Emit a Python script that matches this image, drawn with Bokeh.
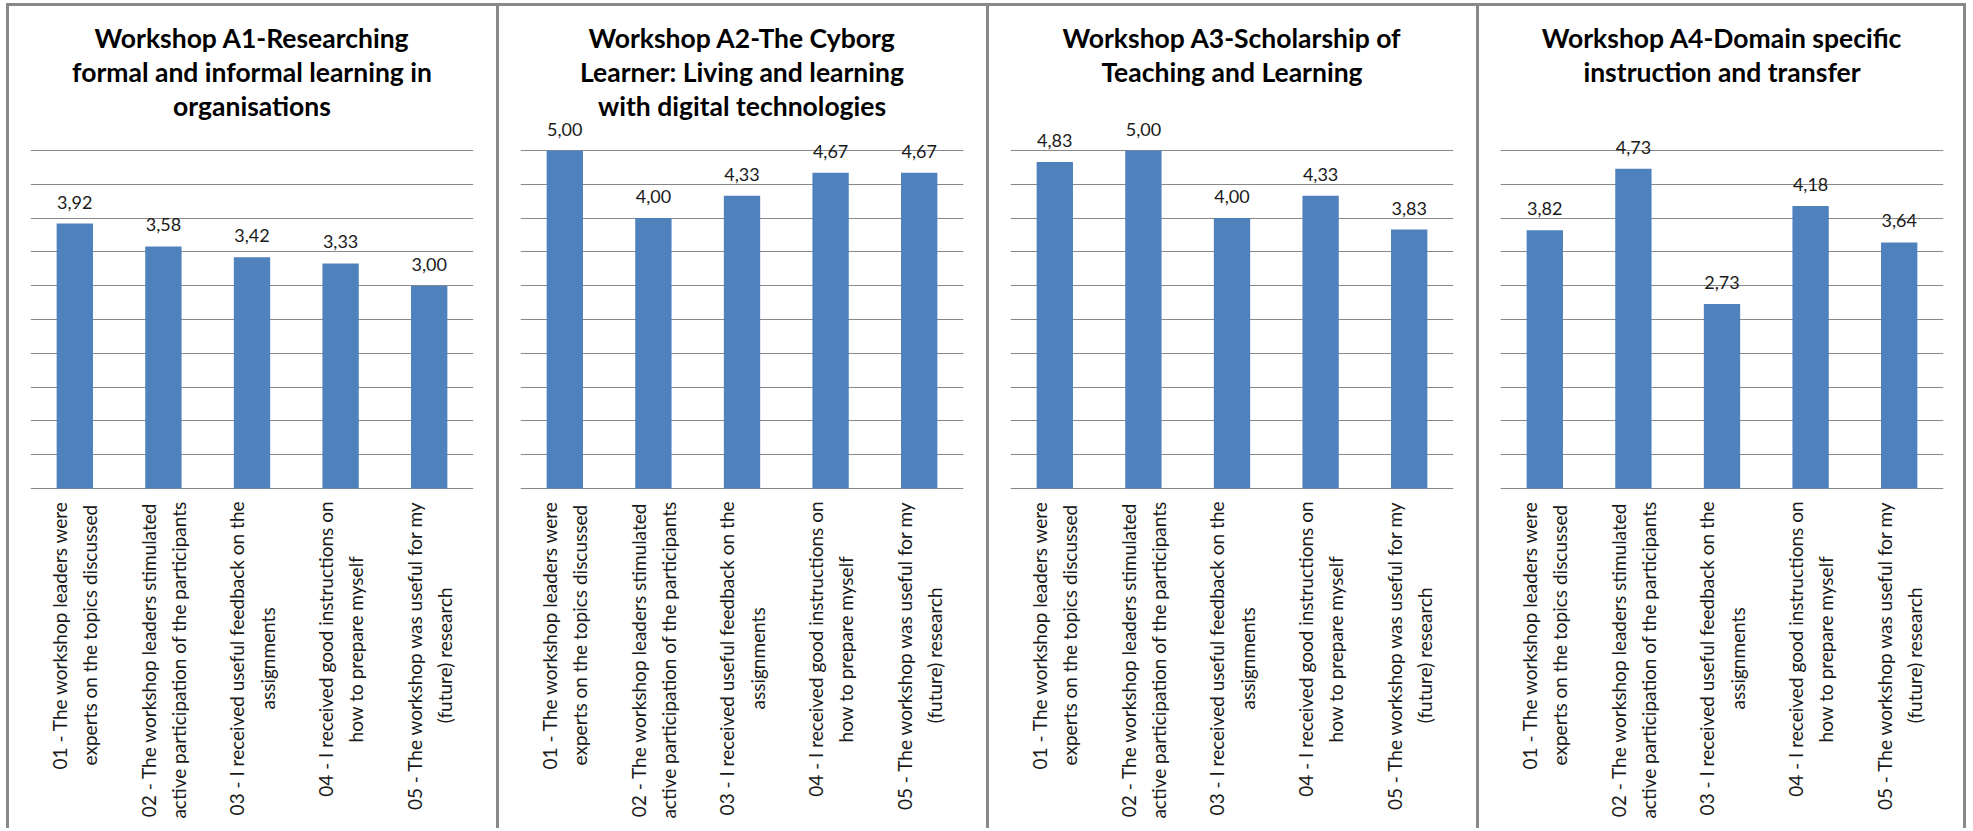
import math, os, glob
from bokeh.plotting import figure
from bokeh.layouts import row
from bokeh.models import ColumnDataSource, FixedTicker, LabelSet, Title
from bokeh.core.properties import value
from bokeh.embed import file_html
from bokeh.resources import INLINE

# ---- data ----
label_line1 = [
    "01 - The workshop leaders were",
    "02 - The workshop leaders stimulated",
    "03 - I received useful feedback on the",
    "04 - I received good instructions on",
    "05 - The workshop was useful for my",
]
label_line2 = [
    "experts on the topics discussed",
    "active participation of the participants",
    "assignments",
    "how to prepare myself",
    "(future) research",
]
title_lines = [
    ["Workshop A1-Researching", "formal and informal learning in", "organisations"],
    ["Workshop A2-The Cyborg", "Learner: Living and learning", "with digital technologies"],
    ["Workshop A3-Scholarship of", "Teaching and Learning"],
    ["Workshop A4-Domain specific", "instruction and transfer"],
]
values_a1 = [3.92, 3.58, 3.42, 3.33, 3.00]
values_a2 = [5.00, 4.00, 4.33, 4.67, 4.67]
values_a3 = [4.83, 5.00, 4.00, 4.33, 3.83]
values_a4 = [3.82, 4.73, 2.73, 4.18, 3.64]
all_values = [values_a1, values_a2, values_a3, values_a4]

categories = [f"Q{k + 1}" for k in range(len(label_line1))]
label_text = [a + "\n" + b for a, b in zip(label_line1, label_line2)]

# ---- style ----
BAR = "#4F81BD"
GRID = "#888888"
FONT = "Lato"
BORDER = "3px solid #888888"
W, H = 490, 825
TOP = 115            # space above frame (titles)
Y5_PX = 144          # px from canvas top to the 5.0 gridline
Y0_PX = 482          # px from canvas top to the 0 axis line
PPU = (Y0_PX - Y5_PX) / 5.0
LABEL_SIZE = 19
LABEL_STANDOFF = 13
TITLE_SIZE = "26.5px"


def find_font(names):
    dirs = ["/usr/share/fonts", "/usr/local/share/fonts",
            os.path.expanduser("~/.fonts"), os.path.expanduser("~/.local/share/fonts")]
    for d in dirs:
        for n in names:
            hits = glob.glob(os.path.join(d, "**", n), recursive=True)
            if hits:
                return hits[0]
    return None


def text_width(s, size):
    try:
        from PIL import ImageFont
        path = find_font(["Lato-Regular.ttf", "Lato-Reg.ttf"])
        if path:
            return ImageFont.truetype(path, size).getlength(s)
    except Exception:
        pass
    return 0.47 * size * len(s)


label_half = [max(text_width(a, LABEL_SIZE), text_width(b, LABEL_SIZE)) / 2
              for a, b in zip(label_line1, label_line2)]
label_y = [-(LABEL_STANDOFF + h) / PPU for h in label_half]

y_top = 5 + (Y5_PX - TOP) / PPU
y_bottom = -(H - Y0_PX) / PPU

panels = []
for i, (lines, vals) in enumerate(zip(title_lines, all_values)):
    src = ColumnDataSource(dict(
        cat=categories,
        val=vals,
        txt=[f"{v:.2f}".replace(".", ",") for v in vals],
    ))
    lsrc = ColumnDataSource(dict(cat=categories, y=label_y, lbl=label_text))
    p = figure(
        x_range=categories, y_range=(y_bottom, y_top),
        width=W, height=H,
        output_backend="svg", toolbar_location=None, title=None,
        min_border_left=21, min_border_right=26, min_border_top=TOP, min_border_bottom=0,
    )
    padded = list(lines) + [" "] * (3 - len(lines))
    for line in reversed(padded):
        t = Title(text=line, align="center", text_font=FONT, text_font_size=TITLE_SIZE,
                  text_font_style="bold", text_color="#000000", standoff=0, offset=0,
                  text_line_height=0.9)
        p.add_layout(t, "above")

    p.vbar(x="cat", top="val", width=0.41, source=src, fill_color=BAR, line_color=None)
    labels = LabelSet(x="cat", y="val", text="txt", source=src, text_align="center",
                      text_baseline="alphabetic", y_offset=15, text_font=value(FONT),
                      text_font_size="18px", text_color="#1a1a1a")
    p.add_layout(labels)

    p.text(x="cat", y="y", text="lbl", source=lsrc, angle=math.pi / 2,
           text_align="center", text_baseline="middle", text_font=value(FONT),
           text_font_size=f"{LABEL_SIZE}px", text_line_height=1.32, text_color="#1a1a1a")

    p.xaxis.visible = False
    p.yaxis.visible = False
    p.ygrid.ticker = FixedTicker(ticks=[k * 0.5 for k in range(11)])
    p.ygrid.grid_line_color = GRID
    p.ygrid.grid_line_width = 1
    p.xgrid.grid_line_color = None
    p.outline_line_color = None

    st = {"border-top": BORDER, "border-left": BORDER}
    if i == 3:
        st["border-right"] = BORDER
    p.styles = st
    panels.append(p)

layout = row(*panels)
layout.styles = {"margin-left": "6px", "margin-top": "3px"}
open("out.html", "w").write(file_html(layout, INLINE))
